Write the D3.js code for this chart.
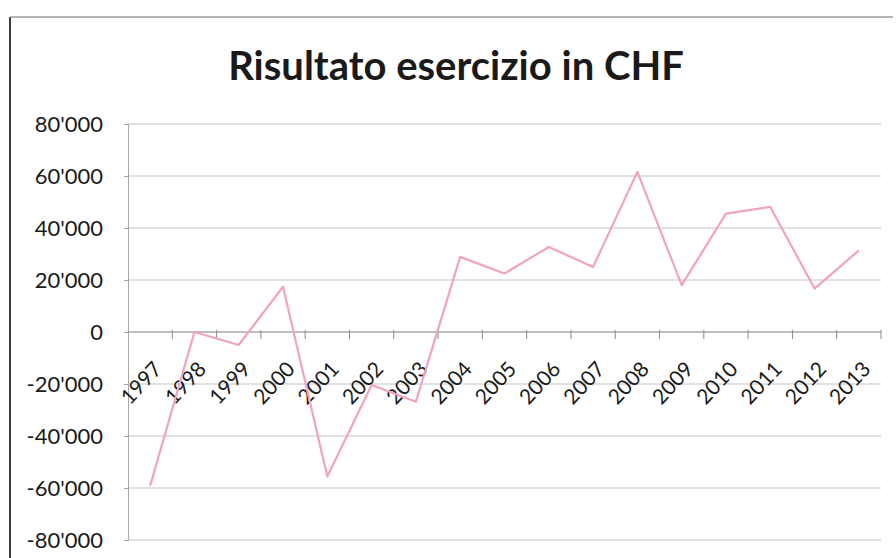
<!DOCTYPE html>
<html>
<head>
<meta charset="utf-8">
<script src="https://cdn.jsdelivr.net/npm/d3@7"></script>
<style>
  html, body { margin: 0; padding: 0; background: #fff; }
  svg { display: block; font-family: Lato, "Open Sans", sans-serif; }
</style>
</head>
<body>
<svg id="chart"></svg>
<script>
// Data
const years = ["1997", "1998", "1999", "2000", "2001", "2002", "2003", "2004", "2005",
               "2006", "2007", "2008", "2009", "2010", "2011", "2012", "2013"];
const result = [-59200, 0, -5000, 17400, -55600, -20400, -26800, 28900, 22500,
                32700, 25000, 61600, 18000, 45500, 48100, 16700, 31400];
const yTicks = [-80000, -60000, -40000, -20000, 0, 20000, 40000, 60000, 80000];
const title = "Risultato esercizio in CHF";

const width = 896, height = 558;
const plot = { left: 128, right: 881, top: 124, bottom: 540 };

const svg = d3.select("#chart")
    .attr("width", width)
    .attr("height", height);

// swiss style thousands separator
const fmt = d3.formatLocale({ decimal: ".", thousands: "'", grouping: [3], currency: ["", ""], minus: "-" }).format(",d");

// Scales
const xScale = d3.scaleBand()
    .domain(years)
    .range([plot.left, plot.right]);

const yScale = d3.scaleLinear()
    .domain([-80000, 80000])
    .range([plot.bottom, plot.top]);

// Chart frame (scanned sheet border)
svg.append("line")
    .attr("x1", 10).attr("x2", 10)
    .attr("y1", 17).attr("y2", height)
    .attr("stroke", "#3a3a3a")
    .attr("stroke-width", 2);
svg.append("line")
    .attr("x1", 10).attr("x2", 893)
    .attr("y1", 17).attr("y2", 17)
    .attr("stroke", "#9a9a9a")
    .attr("stroke-width", 1.5);

// Title
svg.append("text")
    .attr("x", 456)
    .attr("y", 80)
    .attr("text-anchor", "middle")
    .attr("font-size", "40px")
    .attr("font-weight", "bold")
    .attr("fill", "#1a1a1a")
    .text(title);

// Gridlines
svg.append("g")
    .selectAll("line")
    .data(yTicks)
    .enter()
    .append("line")
    .attr("x1", plot.left)
    .attr("x2", plot.right)
    .attr("y1", d => yScale(d))
    .attr("y2", d => yScale(d))
    .attr("stroke", "#c4c4c4")
    .attr("stroke-width", 1);

// Y axis
const yAxis = svg.append("g")
    .attr("transform", `translate(${plot.left}, 0)`)
    .call(d3.axisLeft(yScale).tickValues(yTicks).tickFormat(fmt).tickSize(4).tickPadding(21));
yAxis.select(".domain").attr("stroke", "#a8a8a8");
yAxis.selectAll(".tick line").attr("stroke", "#a8a8a8");
yAxis.selectAll("text")
    .attr("font-size", "22px")
    .attr("fill", "#1a1a1a")
    .attr("font-family", "Lato, sans-serif");

// X axis on the zero line, ticks between categories
const zeroY = yScale(0);
const xAxis = svg.append("g")
    .attr("transform", `translate(0, ${zeroY})`);
xAxis.append("line")
    .attr("x1", plot.left).attr("x2", plot.right)
    .attr("stroke", "#9a9a9a");
const bounds = years.map(d => xScale(d)).concat([plot.right]);
xAxis.selectAll(".tickmark")
    .data(bounds.slice(1))
    .enter()
    .append("line")
    .attr("class", "tickmark")
    .attr("x1", d => d).attr("x2", d => d)
    .attr("y1", -2).attr("y2", 7)
    .attr("stroke", "#8a8a8a");
xAxis.selectAll(".label")
    .data(years)
    .enter()
    .append("text")
    .attr("class", "label")
    .attr("transform", d => `translate(${xScale(d) + xScale.bandwidth() / 2 + 13}, 38) rotate(-47)`)
    .attr("text-anchor", "end")
    .attr("font-size", "21px")
    .attr("fill", "#1a1a1a")
    .text(d => d);

// Result line
const line = d3.line()
    .x((d, i) => xScale(years[i]) + xScale.bandwidth() / 2)
    .y(d => yScale(d));

svg.append("path")
    .datum(result)
    .attr("fill", "none")
    .attr("stroke", "#f2a3bf")
    .attr("stroke-width", 2.2)
    .attr("stroke-linejoin", "round")
    .attr("d", line);
</script>
</body>
</html>
